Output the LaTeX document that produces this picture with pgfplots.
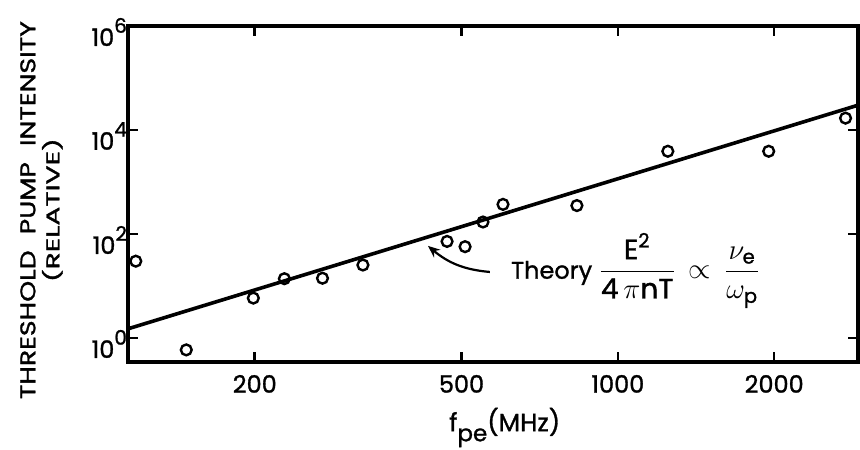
\documentclass[border=0pt]{standalone}
\usepackage{fontspec}
\setmainfont{Poppins}[FakeBold=1.2]
\usepackage{amsmath}
\usepackage{graphicx}
\usepackage{pgfplots}
\pgfplotsset{compat=1.18}
\usetikzlibrary{arrows.meta}
\newcommand\pw[1]{10\raisebox{0.55em}{\fontsize{10}{10}\selectfont #1}}
\begin{document}
\begin{tikzpicture}
\begin{axis}[
  at={(0,0)}, anchor=south west,
  scale only axis, width=365pt, height=168pt,
  xmode=log, ymode=log,
  xmin=114, xmax=2900, ymin=0.345, ymax=1e6,
  xtick={200,500,1000,2000}, xticklabels={200,500,1000,2000},
  ytick={1,100,10000,1000000},
  yticklabels={\pw{0},\pw{2},\pw{4},\pw{6}},
  minor xtick={}, minor ytick={},
  minor tick style={draw=none},
  tick align=inside, major tick length=5pt,
  axis line style={line width=1.6pt},
  every tick/.style={black, line width=1.3pt},
  xticklabel style={font=\fontsize{12}{14}\selectfont, yshift=-3pt},
  yticklabel style={font=\fontsize{12}{14}\selectfont, yshift=-3pt, xshift=3pt},
  clip=false,
]
\addplot[black, line width=1.8pt] coordinates {(114,1.5) (2900,30000)};
\addplot[only marks, mark=o, mark size=2.7pt, black, line width=1.2pt] coordinates {
(118,30) (147.6,0.59) (198.7,5.85) (228,13.8) (270,14.1) (323,25.3)
(469,72) (508,57) (550,170) (601,371) (834,352)
(1248,3900) (1952,3900) (2744,16900)
};
\draw[-{Stealth[length=6pt,width=5pt]}, line width=1.1pt] (axis cs:567,18.6) to[out=175,in=-40] (axis cs:431,59);
\node[anchor=west, font=\fontsize{12}{14}\selectfont, inner sep=0pt] at (axis cs:622,19.9)
  {Theory\ \fontsize{14}{16}\selectfont$\dfrac{\text{E}^{\text{2}}}{\text{4}\,\pi\text{nT}}\,\propto\,\dfrac{\nu_{\text{e}}}{\omega_{\text{p}}}$};
\node[rotate=90, anchor=center, inner sep=0pt, align=center, font=\fontsize{10}{12}\selectfont]
  at (axis description cs:-0.1185,0.452)
  {\resizebox{189pt}{7.5pt}{THRESHOLD\hspace{0.6em}PUMP\hspace{0.6em}INTENSITY}\\
   \resizebox{72pt}{8.6pt}{(RELATIVE)}};
\node[anchor=center, font=\fontsize{12.5}{14}\selectfont, inner sep=0pt] at (axis description cs:0.516,-0.195) {f\raisebox{-0.4em}{\fontsize{11.5}{12}\selectfont pe}(MHz)};
\end{axis}
\pgfresetboundingbox
\path (-64pt,-43.5pt) rectangle (366pt,181pt);
\end{tikzpicture}
\end{document}
